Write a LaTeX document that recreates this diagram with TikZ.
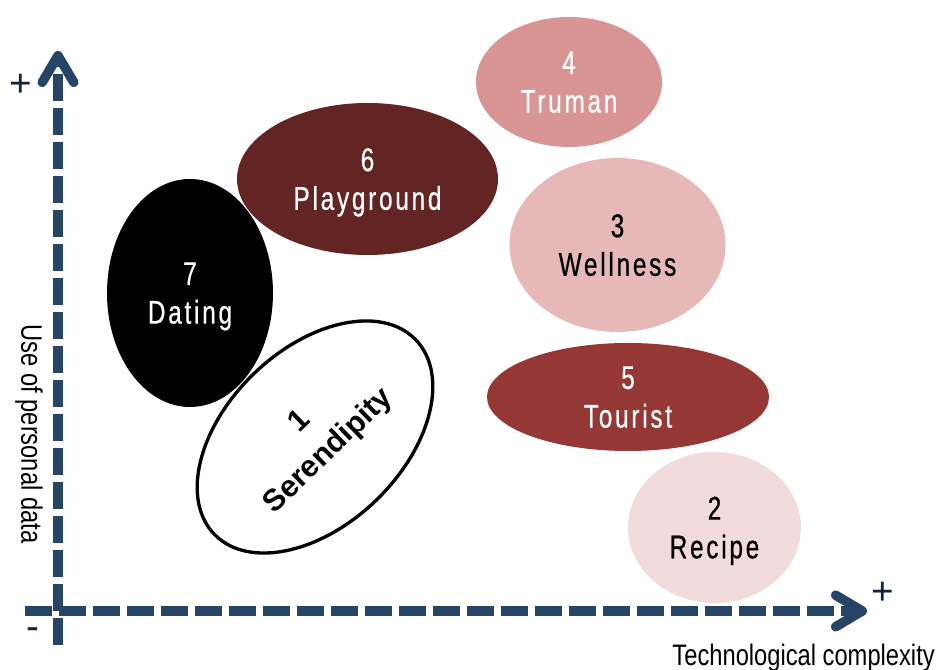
\documentclass[tikz,border=0pt]{standalone}
\usepackage{fontspec}
\setmainfont{Liberation Sans}
\newfontfamily\labelfont[FakeStretch=0.74,FakeBold=0.6,LetterSpace=8.5]{Liberation Sans}
\newfontfamily\titlefont[FakeStretch=0.8]{Liberation Sans}
\usepackage{tikz}
\usetikzlibrary{arrows.meta}
\usetikzlibrary{shapes.geometric}
\definecolor{axisblue}{HTML}{264466}
\definecolor{signblue}{HTML}{14223A}
\definecolor{trumanpink}{HTML}{D99594}
\definecolor{wellnesspink}{HTML}{E6B8B7}
\definecolor{playgroundbrown}{HTML}{632523}
\definecolor{touristred}{HTML}{953735}
\definecolor{recipepink}{HTML}{F2DCDB}

\begin{document}
\begin{tikzpicture}[
  bubble/.style={ellipse, draw=none, inner sep=0pt, align=center, text depth=0pt,
    font=\labelfont\fontsize{28}{33}\selectfont},
  axis/.style={axisblue, line width=0.285cm, dash pattern=on 0.81cm off 0.21cm,
    -{Straight Barb[length=0.8cm, width=0.95cm, round]}},
  sign/.style={signblue, inner sep=0pt, font=\fontsize{33}{38}\selectfont},
  axistitle/.style={inner sep=0pt, font=\titlefont\fontsize{25.3}{30}\selectfont}]

\useasboundingbox (0,0) rectangle (28.11,20.1);

%%Axes
\coordinate (DataLow) at (1.74,0.75);
\coordinate (DataHigh) at (1.74,18.57);
\coordinate (TechLow) at (0.75,1.77);
\coordinate (TechHigh) at (26.01,1.77);
\draw[axis] (DataLow) -- (DataHigh);
\draw[axis] (TechLow) -- (TechHigh);

%%% signs
\node[sign] (PlusData) at (0.63,17.55) {+};
\node[sign] (PlusTech) at (26.49,2.31) {+};
\node[sign] (Minus) at (1.0,1.1) {-};

%%% axis titles
\node[axistitle, anchor=base east] (TechTitle) at (28.05,0.14) {Technological complexity};
\node[axistitle, rotate=-90] (DataTitle) at (0.87,7.08) {Use of personal data};

%%Scenarios
\node[bubble, fill=trumanpink, text=white, minimum width=5.58cm, minimum height=3.9cm] (Truman) at (17.07,17.64) {4\\Truman};
\node[bubble, fill=wellnesspink, text=black, minimum width=6.48cm, minimum height=5.22cm] (Wellness) at (18.525,12.75) {3\\Wellness};
\node[bubble, fill=playgroundbrown, text=white, minimum width=7.83cm, minimum height=4.56cm] (Playground) at (11.025,14.73) {6\\Playground};
\node[bubble, fill=black, text=white, minimum width=4.98cm, minimum height=6.84cm] (Dating) at (5.7,11.31) {7\\Dating};
\node[bubble, fill=touristred, text=white, minimum width=8.46cm, minimum height=3.24cm] (Tourist) at (18.84,8.19) {5\\Tourist};
\node[bubble, fill=recipepink, text=black, minimum width=5.19cm, minimum height=4.53cm] (Recipe) at (21.435,4.275) {2\\Recipe};

%%% tilted one
\node[ellipse, draw=black, line width=0.1cm, fill=white, inner sep=0pt, align=center, rotate=44, minimum width=8.4cm, minimum height=5.28cm, font=\bfseries\fontsize{26}{35}\selectfont] (Serendipity) at (9.45,6.99) {1\\Serendipity};

\end{tikzpicture}
\end{document}
